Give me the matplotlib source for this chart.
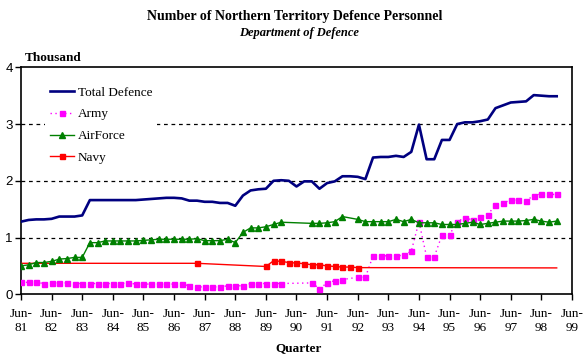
import numpy as np
import matplotlib
matplotlib.use("Agg")
import matplotlib.pyplot as plt

nan = np.nan

# quarterly, Jun-81 (index 0) to Dec-98 (index 70)
total = [1.28, 1.31, 1.32, 1.32, 1.33, 1.37, 1.37, 1.37, 1.39, 1.66,
         1.66, 1.66, 1.66, 1.66, 1.66, 1.66, 1.67, 1.68, 1.69, 1.70,
         1.70, 1.69, 1.65, 1.65, 1.63, 1.63, 1.61, 1.61, 1.56, 1.74,
         1.83, 1.85, 1.86, 2.00, 2.01, 2.00, 1.90, 1.99, 1.99, 1.86,
         1.96, 1.99, 2.08, 2.08, 2.07, 2.03, 2.41, 2.42, 2.42, 2.44,
         2.42, 2.51, 2.99, 2.38, 2.38, 2.72, 2.72, 3.00, 3.03, 3.03,
         3.05, 3.08, 3.28, 3.33, 3.38, 3.39, 3.40, 3.51, 3.50, 3.49,
         3.49]

army = [0.21, 0.21, 0.21, 0.19, 0.20, 0.20, 0.20, 0.19, 0.19, 0.19,
        0.19, 0.19, 0.19, 0.19, 0.20, 0.18, 0.18, 0.18, 0.18, 0.18,
        0.18, 0.18, 0.15, 0.13, 0.13, 0.13, 0.13, 0.15, 0.15, 0.15,
        0.19, 0.19, 0.19, 0.19, 0.19, nan, nan, nan, 0.20, 0.10,
        0.20, 0.24, 0.26, nan, 0.30, 0.30, 0.675, 0.675, 0.68, 0.68,
        0.685, 0.76, 1.28, 0.66, 0.66, 1.04, 1.05, 1.28, 1.35, 1.31,
        1.37, 1.40, 1.58, 1.61, 1.66, 1.66, 1.65, 1.74, 1.77, 1.76,
        1.76]

airforce = [0.50, 0.52, 0.56, 0.56, 0.58, 0.62, 0.63, 0.65, 0.65, 0.91,
            0.91, 0.94, 0.94, 0.94, 0.94, 0.94, 0.95, 0.96, 0.97, 0.97,
            0.97, 0.97, 0.97, 0.98, 0.945, 0.945, 0.945, 0.97, 0.91, 1.09,
            1.17, 1.17, 1.19, 1.23, 1.27, nan, nan, nan, 1.25, 1.25,
            1.26, 1.28, 1.37, nan, 1.32, 1.28, 1.28, 1.28, 1.28, 1.32,
            1.28, 1.32, 1.26, 1.26, 1.26, 1.23, 1.23, 1.23, 1.25, 1.27,
            1.23, 1.25, 1.27, 1.29, 1.29, 1.29, 1.30, 1.32, 1.29, 1.27,
            1.29]

navy = [0.546] + [nan] * 22 + [0.546] + [nan] * 8 + \
       [0.49, 0.59, 0.58, 0.56, 0.55, 0.54, 0.52, 0.52, 0.50, 0.49,
        0.48, 0.48, 0.47] + [nan] * 25 + [0.465]

tick_years = ["81", "82", "83", "84", "85", "86", "87", "88", "89", "90",
              "91", "92", "93", "94", "95", "96", "97", "98", "99"]

serif = "Liberation Serif"
sans = "Liberation Sans"

fig = plt.figure(figsize=(5.88, 3.64), dpi=100)
ax = fig.add_axes([0.0357, 0.1915, 0.9371, 0.6236])


def valid(vals):
    y = np.array(vals, dtype=float)
    x = np.arange(len(y))
    m = ~np.isnan(y)
    return x[m], y[m]


x, y = valid(total)
ax.plot(x, y, color="#000080", lw=1.9, label="Total Defence", zorder=3)

x, y = valid(army)
ax.plot(x, y, color="#FF00FF", lw=1.0, ls=(0, (1, 2.5)), marker="s", ms=3.6,
        mec="#FF00FF", label="Army", zorder=4)

x, y = valid(airforce)
ax.plot(x, y, color="#008000", lw=1.0, marker="^", ms=4.5, mec="#008000",
        label="AirForce", zorder=5)

x, y = valid(navy)
ax.plot(x, y, color="#FF0000", lw=1.0, marker="s", ms=3.6, mec="#FF0000",
        markevery=list(range(1, len(x) - 1)), label="Navy", zorder=4)

ax.set_xlim(0, 72)
ax.set_ylim(0, 4)
ax.set_xticks(range(0, 73, 4))
ax.set_xticklabels(["Jun-\n" + t for t in tick_years], fontfamily=serif, fontsize=9.5,
                   linespacing=1.2)
ax.set_yticks([0, 1, 2, 3, 4])
ax.set_yticklabels(["0", "1", "2", "3", "4"], fontfamily=sans, fontsize=9.5)
ax.tick_params(direction="out", length=4, width=1)
ax.tick_params(axis="x", pad=6)
ax.tick_params(axis="y", pad=2)

for y in [1, 2, 3]:
    ax.axhline(y, color="black", lw=0.9, ls=(0, (3, 3)), zorder=1)
for s in ax.spines.values():
    s.set_linewidth(1.2)

leg = ax.legend(loc="upper left", bbox_to_anchor=(0.032, 0.968), frameon=True,
                fancybox=False, edgecolor="none", facecolor="white", framealpha=1,
                prop={"family": serif, "size": 9.5}, handlelength=1.8,
                handletextpad=0.25, labelspacing=0.72, borderpad=0.4)
leg.set_zorder(6)

fig.text(0.502, 0.954, "Number of Northern Territory Defence Personnel",
         ha="center", va="center", fontfamily=serif, fontweight="bold", fontsize=10)
fig.text(0.508, 0.909, "Department of Defence", ha="center", va="center",
         fontfamily=serif, fontweight="bold", fontstyle="italic", fontsize=9)
fig.text(0.043, 0.842, "Thousand", ha="left", va="center", fontfamily=serif,
         fontweight="bold", fontsize=9.5)
fig.text(0.507, 0.044, "Quarter", ha="center", va="center", fontfamily=serif,
         fontweight="bold", fontsize=9.5)

fig.savefig("out.png", dpi=100)
